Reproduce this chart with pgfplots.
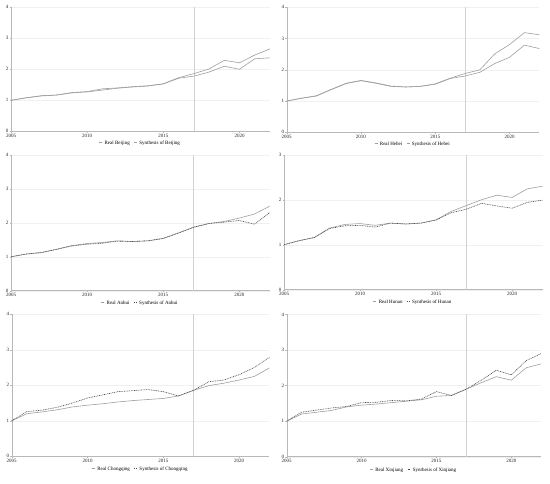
\documentclass[border=0pt]{standalone}
\usepackage{fontspec}
\setmainfont{Liberation Serif}
\usepackage{pgfplots}
\usepackage{pgfplotstable}
\pgfplotsset{compat=1.18}
\definecolor{realc}{gray}{0.62}
\definecolor{sync}{gray}{0.62}
\definecolor{dotc}{gray}{0.30}
\definecolor{vlc}{gray}{0.82}
\definecolor{axc}{gray}{0.72}
\definecolor{gridc}{gray}{0.94}

\pgfplotstableread{
year real synth
2005 1.00 1.00
2006 1.08 1.08
2007 1.15 1.14
2008 1.17 1.17
2009 1.25 1.24
2010 1.28 1.27
2011 1.37 1.33
2012 1.40 1.39
2013 1.44 1.43
2014 1.47 1.46
2015 1.53 1.53
2016 1.73 1.71
2017 1.86 1.78
2018 2.01 1.91
2019 2.29 2.10
2020 2.21 2.00
2021 2.46 2.34
2022 2.66 2.37
}\beijing
\pgfplotstableread{
year real synth
2005 1.00 1.00
2006 1.09 1.09
2007 1.17 1.16
2008 1.37 1.37
2009 1.57 1.56
2010 1.66 1.65
2011 1.58 1.57
2012 1.48 1.47
2013 1.45 1.45
2014 1.47 1.47
2015 1.55 1.54
2016 1.73 1.72
2017 1.88 1.80
2018 2.00 1.92
2019 2.51 2.20
2020 2.81 2.40
2021 3.19 2.79
2022 3.12 2.68
}\hebei
\pgfplotstableread{
year real synth
2005 1.00 1.00
2006 1.08 1.08
2007 1.13 1.12
2008 1.22 1.22
2009 1.33 1.32
2010 1.39 1.37
2011 1.42 1.40
2012 1.47 1.46
2013 1.45 1.45
2014 1.47 1.47
2015 1.54 1.54
2016 1.70 1.70
2017 1.87 1.87
2018 1.98 1.98
2019 2.04 2.02
2020 2.14 2.07
2021 2.26 1.96
2022 2.49 2.30
}\anhui
\pgfplotstableread{
year real synth
2005 1.00 1.00
2006 1.09 1.09
2007 1.16 1.16
2008 1.37 1.36
2009 1.45 1.42
2010 1.47 1.43
2011 1.43 1.39
2012 1.48 1.48
2013 1.46 1.46
2014 1.48 1.48
2015 1.55 1.55
2016 1.74 1.71
2017 1.87 1.79
2018 2.00 1.92
2019 2.10 1.86
2020 2.05 1.81
2021 2.24 1.94
2022 2.30 1.99
}\hunan
\pgfplotstableread{
year real synth
2005 1.00 1.00
2006 1.20 1.26
2007 1.25 1.30
2008 1.31 1.38
2009 1.39 1.50
2010 1.44 1.64
2011 1.48 1.73
2012 1.53 1.82
2013 1.57 1.85
2014 1.60 1.88
2015 1.63 1.82
2016 1.70 1.70
2017 1.86 1.86
2018 1.99 2.10
2019 2.06 2.15
2020 2.15 2.30
2021 2.25 2.50
2022 2.49 2.79
}\chongqing
\pgfplotstableread{
year real synth
2005 1.00 1.00
2006 1.20 1.25
2007 1.25 1.31
2008 1.30 1.37
2009 1.40 1.41
2010 1.45 1.52
2011 1.48 1.53
2012 1.52 1.58
2013 1.56 1.57
2014 1.60 1.62
2015 1.70 1.83
2016 1.72 1.72
2017 1.90 1.90
2018 2.08 2.15
2019 2.25 2.43
2020 2.15 2.30
2021 2.50 2.70
2022 2.61 2.90
}\xinjiang

\pgfplotsset{
  panel/.style={
    scale only axis, anchor=south west,
    xmin=2005, xmax=2022, ymin=0, ymax=4,
    axis lines=left, axis line style={-, color=axc, line width=0.4pt},
    xtick={2005,2010,2015,2020},
    tick style={color=axc, line width=0.3pt}, tick align=outside,
    major tick length=1.5pt,
    ymajorgrids, grid style={color=gridc, line width=0.3pt},
    ticklabel style={font=\fontsize{5}{6}\selectfont, text=black!85},
    xticklabel style={inner sep=1pt},
    yticklabel style={inner sep=1pt},
    /pgf/number format/1000 sep={},
    /pgf/number format/assume math mode=true,
    legend style={at={(0.5,-0.062)}, anchor=north, draw=none, fill=none,
      font=\fontsize{5}{6}\selectfont, inner sep=0pt,
      /tikz/every even column/.append style={column sep=2pt}},
    legend columns=2,
    legend image code/.code={\draw[#1] (0pt,1.3pt) -- (3pt,1.3pt);},
    every axis plot/.append style={line width=0.6pt},
  },
  realline/.style={color=realc, solid},
  synline/.style={color=sync, solid},
  dotline/.style={color=dotc, dash pattern=on 0.9pt off 0.8pt},
}

\begin{document}
\begin{tikzpicture}
\path[use as bounding box] (0pt,0pt) rectangle (550pt,484pt);

% Row 1 left: Beijing
\begin{axis}[panel, at={(11pt,352.7pt)}, width=259pt, height=124pt]
\addplot[vlc, line width=0.6pt, forget plot] coordinates {(2017,0) (2017,4)};
\addplot[realline] table[x=year,y=real] {\beijing};
\addlegendentry{Real Beijing}
\addplot[synline] table[x=year,y=synth] {\beijing};
\addlegendentry{Synthesis of Beijing}
\end{axis}

% Row 1 right: Hebei
\begin{axis}[panel, at={(286.7pt,351.7pt)}, width=252.6pt, height=125pt]
\addplot[vlc, line width=0.6pt, forget plot] coordinates {(2017,0) (2017,4)};
\addplot[realline] table[x=year,y=real] {\hebei};
\addlegendentry{Real Hebei}
\addplot[synline] table[x=year,y=synth] {\hebei};
\addlegendentry{Synthesis of Hebei}
\end{axis}

% Row 2 left: Anhui
\begin{axis}[panel, at={(11pt,193.3pt)}, width=258.7pt, height=135.7pt]
\addplot[vlc, line width=0.6pt, forget plot] coordinates {(2017,0) (2017,4)};
\addplot[realline] table[x=year,y=real] {\anhui};
\addlegendentry{Real Anhui}
\addplot[dotline] table[x=year,y=synth] {\anhui};
\addlegendentry{Synthesis of Anhui}
\end{axis}

% Row 2 right: Hunan
\begin{axis}[panel, at={(284pt,194.3pt)}, width=258.5pt, height=135pt, ymax=3, ytick={0,1,2,3}]
\addplot[vlc, line width=0.6pt, forget plot] coordinates {(2017,0) (2017,3)};
\addplot[realline] table[x=year,y=real] {\hunan};
\addlegendentry{Real Hunan}
\addplot[dotline] table[x=year,y=synth] {\hunan};
\addlegendentry{Synthesis of Hunan}
\end{axis}

% Row 3 left: Chongqing
\begin{axis}[panel, at={(11.7pt,27.7pt)}, width=257.8pt, height=142pt]
\addplot[vlc, line width=0.6pt, forget plot] coordinates {(2017,0) (2017,4)};
\addplot[realline] table[x=year,y=real] {\chongqing};
\addlegendentry{Real Chongqing}
\addplot[dotline] table[x=year,y=synth] {\chongqing};
\addlegendentry{Synthesis of Chongqing}
\end{axis}

% Row 3 right: Xinjiang
\begin{axis}[panel, at={(286.7pt,27.3pt)}, width=254.5pt, height=142.3pt]
\addplot[vlc, line width=0.6pt, forget plot] coordinates {(2017,0) (2017,4)};
\addplot[realline] table[x=year,y=real] {\xinjiang};
\addlegendentry{Real Xinjiang}
\addplot[dotline] table[x=year,y=synth] {\xinjiang};
\addlegendentry{Synthesis of Xinjiang}
\end{axis}
\end{tikzpicture}
\end{document}
